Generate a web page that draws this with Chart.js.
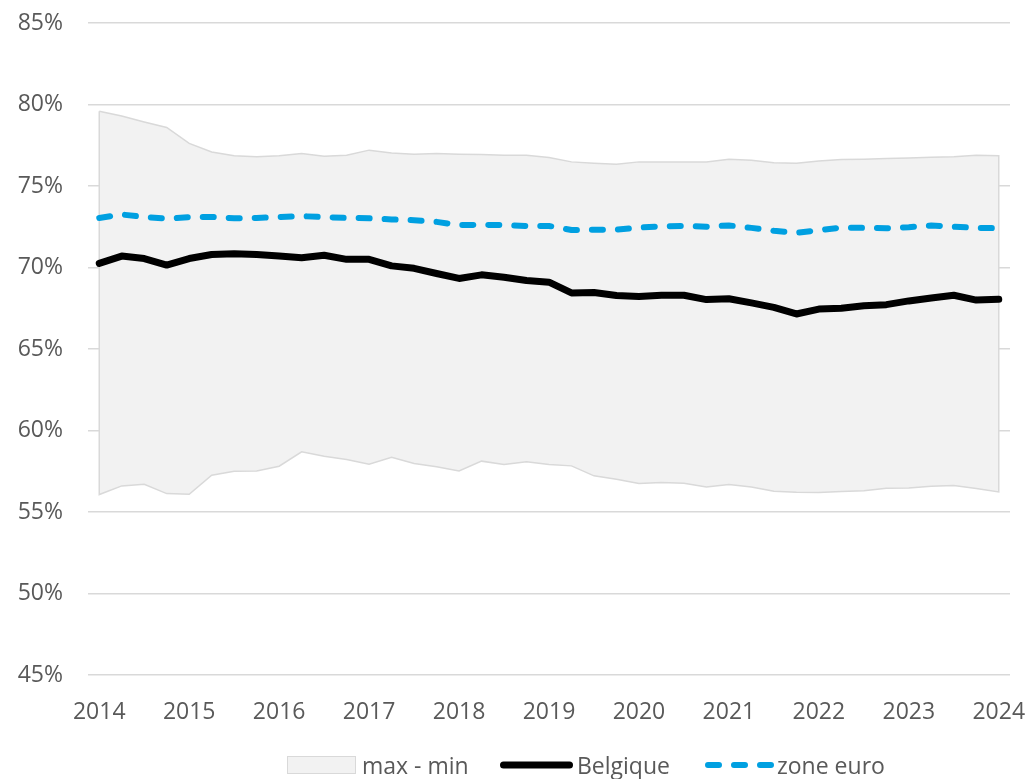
<!DOCTYPE html>
<html>
<head>
<meta charset="utf-8">
<script src="https://cdn.jsdelivr.net/npm/chart.js@4.4.1/dist/chart.umd.min.js"></script>
<style>
  html, body { margin: 0; padding: 0; background: #fff; }
  #wrap { position: relative; width: 1030px; height: 779px; }
  .leg { position: absolute; top: 751px; height: 28px; display: flex; align-items: center;
         font: 23px 'Open Sans', sans-serif; color: #595959; white-space: nowrap; }
  .leg svg { display: block; }
</style>
</head>
<body>
<div id="wrap">
  <canvas id="chart" width="1030" height="779"></canvas>
  <div class="leg" style="left:287px">
    <svg width="69" height="18"><rect x="0.5" y="0.5" width="68" height="17" fill="#f2f2f2" stroke="#d9d9d9" stroke-width="1"/></svg>
    <span style="margin-left:6px">max - min</span>
  </div>
  <div class="leg" style="left:500px">
    <svg width="73" height="10"><line x1="3.5" y1="5" x2="69.5" y2="5" stroke="#000" stroke-width="7" stroke-linecap="round"/></svg>
    <span style="margin-left:4px">Belgique</span>
  </div>
  <div class="leg" style="left:705px">
    <svg width="69" height="10"><line x1="3" y1="5" x2="66" y2="5" stroke="#00a0e1" stroke-width="6" stroke-linecap="round" stroke-dasharray="11 15"/></svg>
    <span style="margin-left:3px">zone euro</span>
  </div>
</div>
<script>
// années affichées sur l'axe, données trimestrielles 2014T1 - 2024T1
const years = ['2014', '2015', '2016', '2017', '2018', '2019', '2020', '2021', '2022', '2023', '2024'];
const quarters = years.flatMap(y => ['T1', 'T2', 'T3', 'T4'].map(q => y + q)).slice(0, 41);

// taux (%)
const belgique = [
    70.25, 70.7, 70.55, 70.15,
    70.55, 70.8, 70.85, 70.8,
    70.7, 70.6, 70.75, 70.5,
    70.5, 70.1, 69.95, 69.63,
    69.33, 69.55, 69.4, 69.2,
    69.1, 68.44, 68.47, 68.28,
    68.22, 68.3, 68.3, 68.03,
    68.08, 67.83, 67.55, 67.15,
    67.45, 67.5, 67.65, 67.72,
    67.95, 68.13, 68.3, 68.0,
    68.05
];
const zoneEuro = [
    73.04, 73.25, 73.1, 73.0,
    73.09, 73.1, 73.02, 73.04,
    73.1, 73.15, 73.09, 73.04,
    73.02, 72.95, 72.9, 72.8,
    72.6, 72.62, 72.6, 72.55,
    72.55, 72.3, 72.32, 72.32,
    72.45, 72.52, 72.55, 72.5,
    72.58, 72.43, 72.25, 72.12,
    72.29, 72.45, 72.43, 72.41,
    72.47, 72.58, 72.5, 72.43,
    72.41
];
const maxVals = [
    79.58, 79.3, 78.93, 78.59,
    77.61, 77.09, 76.85, 76.79,
    76.85, 76.99, 76.83, 76.89,
    77.2, 77.03, 76.95, 76.99,
    76.95, 76.93, 76.89, 76.89,
    76.75, 76.48, 76.4, 76.34,
    76.48, 76.48, 76.48, 76.48,
    76.64, 76.58, 76.42, 76.4,
    76.54, 76.63, 76.64, 76.68,
    76.72, 76.77, 76.8, 76.89,
    76.85
];
const minVals = [
    56.07, 56.6, 56.7, 56.13,
    56.09, 57.26, 57.5, 57.52,
    57.81, 58.69, 58.42, 58.22,
    57.93, 58.36, 57.97, 57.77,
    57.52, 58.12, 57.91, 58.08,
    57.91, 57.83, 57.22, 57.01,
    56.75, 56.81, 56.77, 56.54,
    56.69, 56.54, 56.28, 56.21,
    56.2, 56.26, 56.3, 56.46,
    56.48, 56.58, 56.63, 56.44,
    56.23
];
const yTicks = [45, 50, 55, 60, 65, 70, 75, 80, 85];

const textColor = '#595959';
const gridColor = '#d9d9d9';
const fontFamily = "'Open Sans', sans-serif";

// zone max - min : polygone fermé (max vers la droite, min vers la gauche)
const bandPoints = [
    ...maxVals.map((v, i) => ({ x: quarters[i], y: v })),
    ...minVals.map((v, i) => ({ x: quarters[i], y: v })).reverse(),
    { x: quarters[0], y: maxVals[0] }
];

const ctx = document.getElementById('chart').getContext('2d');
new Chart(ctx, {
    type: 'line',
    data: {
        labels: quarters,
        datasets: [
            {
                label: 'Belgique',
                data: belgique,
                borderColor: '#000000',
                borderWidth: 7,
                borderJoinStyle: 'round',
                borderCapStyle: 'round',
                pointRadius: 0,
                fill: false,
                order: 1
            },
            {
                label: 'zone euro',
                data: zoneEuro,
                borderColor: '#00a0e1',
                borderWidth: 6,
                borderDash: [11, 15],
                borderCapStyle: 'round',
                borderJoinStyle: 'round',
                pointRadius: 0,
                fill: false,
                order: 2
            },
            {
                label: 'max - min',
                data: bandPoints,
                borderColor: gridColor,
                borderWidth: 1.5,
                backgroundColor: '#f2f2f2',
                pointRadius: 0,
                fill: 'shape',
                order: 3
            }
        ]
    },
    options: {
        responsive: false,
        animation: false,
        layout: { padding: { top: 23, right: 20, bottom: 44, left: 0 } },
        plugins: {
            legend: { display: false },
            tooltip: { enabled: false }
        },
        scales: {
            x: {
                type: 'category',
                offset: true,
                grid: { display: false },
                border: { display: false },
                ticks: {
                    autoSkip: false,
                    maxRotation: 0,
                    minRotation: 0,
                    padding: 16,
                    color: textColor,
                    font: { family: fontFamily, size: 23 },
                    callback: function (value) {
                        return this.getLabelForValue(value).slice(0, 4);
                    }
                },
                afterBuildTicks: (scale) => {
                    scale.ticks = scale.ticks.filter(t => t.value % 4 === 0);
                },
                afterFit: (scale) => {
                    scale.height = 60;
                    scale.paddingLeft = 0;
                    scale.paddingRight = 0;
                }
            },
            y: {
                min: 45,
                max: 85,
                grid: { color: gridColor, lineWidth: 1.5, drawTicks: false },
                border: { display: false },
                ticks: {
                    padding: 25,
                    color: textColor,
                    font: { family: fontFamily, size: 23 },
                    callback: (v) => v + '%'
                },
                afterBuildTicks: (scale) => {
                    scale.ticks = yTicks.map(v => ({ value: v }));
                },
                afterFit: (scale) => {
                    scale.width = 88;
                    scale.paddingTop = 0;
                    scale.paddingBottom = 0;
                }
            }
        }
    }
});
</script>
</body>
</html>
